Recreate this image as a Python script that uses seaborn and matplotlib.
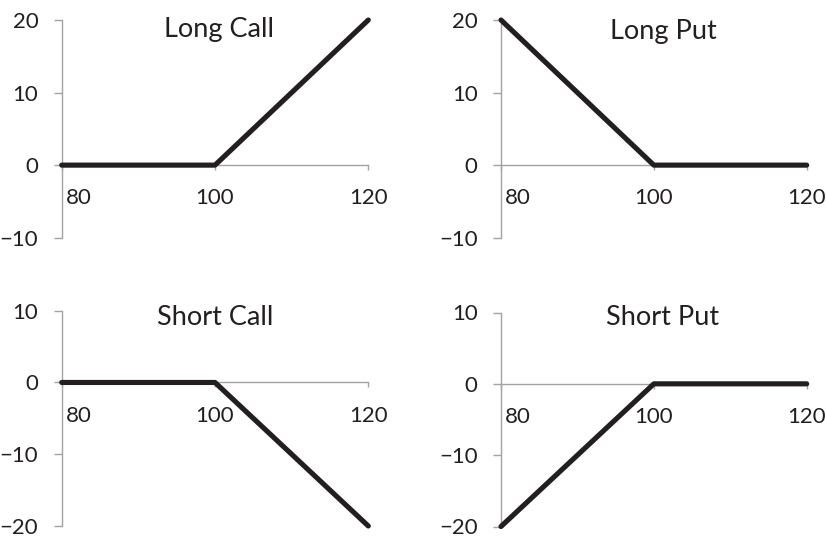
import matplotlib
matplotlib.use("Agg")
import matplotlib.pyplot as plt
import matplotlib.transforms as mtransforms
import seaborn as sns
import pandas as pd

# ---- data ----
price = [80, 100, 120]
long_call = [0, 0, 20]
long_put = [20, 0, 0]
short_call = [0, 0, -20]
short_put = [-20, 0, 0]
titles = ["Long Call", "Long Put", "Short Call", "Short Put"]
x_ticks = [80, 100, 120]
y_ticks_top = [-10, 0, 10, 20]
y_ticks_bottom = [-20, -10, 0, 10]

sns.set_style("white")
plt.rcParams["font.family"] = ["Lato", "DejaVu Sans"]
plt.rcParams["axes.unicode_minus"] = True

W, H = 826, 538
fig = plt.figure(figsize=(W / 100, H / 100), dpi=100)

# axes boxes in pixels: left, right, top, bottom
boxes = [
    (61.7, 368.3, 20.0, 237.7),
    (501.0, 806.7, 20.0, 237.7),
    (61.7, 368.3, 310.7, 526.0),
    (501.0, 806.7, 312.5, 526.5),
]
# title centre x, baseline y (pixels)
title_pos = [(219, 37), (663, 39), (215.5, 325), (663, 325)]

series = [long_call, long_put, short_call, short_put]
ylims = [(-10, 20), (-10, 20), (-20, 10), (-20, 10)]
yticks = [y_ticks_top, y_ticks_top, y_ticks_bottom, y_ticks_bottom]

axis_col = "#a3a3a3"
line_col = "#231f20"
text_col = "#231f20"

for i in range(4):
    l, r, t, b = boxes[i]
    ax = fig.add_axes([l / W, 1 - b / H, (r - l) / W, (b - t) / H])
    df = pd.DataFrame({"price": price, "payoff": series[i]})
    sns.lineplot(data=df, x="price", y="payoff", ax=ax, color=line_col,
                 linewidth=3.7, clip_on=False, zorder=5,
                 solid_capstyle="round", solid_joinstyle="round")
    ax.set_xlim(80, 120)
    ax.set_ylim(*ylims[i])
    ax.set_xticks(x_ticks)
    ax.set_yticks(yticks[i])
    ax.set_xticklabels([str(v) for v in x_ticks])
    ax.set_yticklabels([f"\u2212{abs(v)}" if v < 0 else str(v) for v in yticks[i]])
    ax.set_xlabel("")
    ax.set_ylabel("")
    for s in ["top", "right"]:
        ax.spines[s].set_visible(False)
    ax.spines["bottom"].set_position(("data", 0))
    for s in ["left", "bottom"]:
        ax.spines[s].set_color(axis_col)
        ax.spines[s].set_linewidth(1.0)
    ax.tick_params(axis="x", direction="out", length=3.6, width=1.0,
                   color=axis_col, labelsize=16, labelcolor=text_col, pad=13,
                   bottom=True)
    ax.tick_params(axis="y", direction="out", length=5.8, width=1.0,
                   color=axis_col, labelsize=16, labelcolor=text_col, pad=11,
                   left=True)
    # first x label shifted right of the y axis
    lbl = ax.get_xticklabels()[0]
    lbl.set_horizontalalignment("left")
    lbl.set_transform(lbl.get_transform() +
                      mtransforms.ScaledTranslation(4 / 100, 0, fig.dpi_scale_trans))
    ax.patch.set_alpha(0)
    cx, by = title_pos[i]
    fig.text(cx / W, 1 - by / H, titles[i], ha="center", va="baseline",
             fontsize=19.5, color=text_col)

fig.savefig("out.png", dpi=100)
